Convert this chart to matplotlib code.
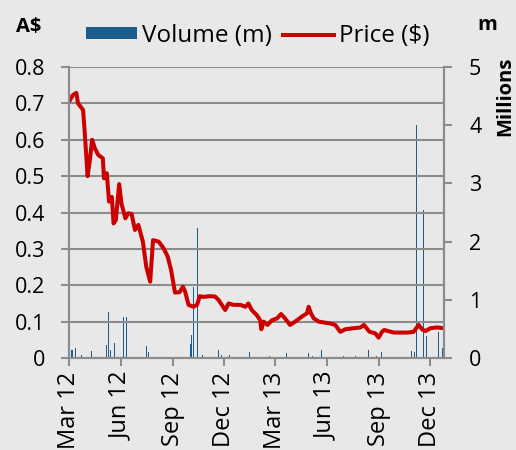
import pandas as pd
import matplotlib
matplotlib.use("Agg")
import matplotlib.pyplot as plt
import matplotlib.dates as mdates
from matplotlib.patches import Patch
from matplotlib.lines import Line2D

plt.rcParams['font.family'] = ['Open Sans', 'DejaVu Sans']

# Share price (A$)
price_dates = [
    "2012-03-01", "2012-03-08", "2012-03-14", "2012-03-17", "2012-03-26", "2012-03-29",
    "2012-04-03", "2012-04-07", "2012-04-11", "2012-04-16", "2012-04-22", "2012-04-30",
    "2012-05-02", "2012-05-07", "2012-05-11", "2012-05-16", "2012-05-19", "2012-05-23",
    "2012-05-29", "2012-06-02", "2012-06-09", "2012-06-14", "2012-06-20", "2012-06-26",
    "2012-07-02", "2012-07-10", "2012-07-16", "2012-07-23", "2012-07-28", "2012-08-07",
    "2012-08-16", "2012-08-23", "2012-08-29", "2012-09-05", "2012-09-13", "2012-09-19",
    "2012-09-23", "2012-09-29", "2012-10-08", "2012-10-14", "2012-10-19", "2012-10-25",
    "2012-11-06", "2012-11-15", "2012-11-21", "2012-12-03", "2012-12-09", "2012-12-18",
    "2012-12-30", "2013-01-08", "2013-01-13", "2013-01-19", "2013-01-28", "2013-02-03",
    "2013-02-05", "2013-02-09", "2013-02-16", "2013-02-24", "2013-03-05", "2013-03-12",
    "2013-03-19", "2013-03-28", "2013-04-06", "2013-04-18", "2013-04-27", "2013-04-30",
    "2013-05-04", "2013-05-09", "2013-05-18", "2013-06-07", "2013-06-16", "2013-06-25",
    "2013-07-04", "2013-07-19", "2013-07-31", "2013-08-06", "2013-08-16", "2013-08-26",
    "2013-09-01", "2013-09-07", "2013-09-11", "2013-09-28", "2013-10-22", "2013-11-02",
    "2013-11-11", "2013-11-17", "2013-11-23", "2013-12-02", "2013-12-14", "2013-12-25",
]
price_values = [
    0.705, 0.723, 0.729, 0.700, 0.682, 0.618,
    0.500, 0.544, 0.600, 0.576, 0.558, 0.549,
    0.494, 0.508, 0.430, 0.443, 0.370, 0.379,
    0.478, 0.425, 0.384, 0.398, 0.396, 0.352,
    0.366, 0.320, 0.251, 0.210, 0.324, 0.320,
    0.301, 0.279, 0.242, 0.180, 0.181, 0.196,
    0.182, 0.146, 0.141, 0.146, 0.170, 0.168,
    0.170, 0.169, 0.160, 0.132, 0.150, 0.146,
    0.146, 0.141, 0.150, 0.132, 0.118, 0.104,
    0.079, 0.100, 0.091, 0.104, 0.109, 0.121,
    0.109, 0.091, 0.100, 0.114, 0.123, 0.141,
    0.123, 0.109, 0.100, 0.095, 0.091, 0.072,
    0.079, 0.082, 0.084, 0.091, 0.072, 0.068,
    0.056, 0.072, 0.077, 0.070, 0.070, 0.072,
    0.091, 0.079, 0.074, 0.082, 0.084, 0.082,
]

# Daily volume (millions of shares)
vol_dates = [
    "2012-03-05", "2012-03-07", "2012-03-13", "2012-03-19", "2012-03-23", "2012-03-28",
    "2012-04-02", "2012-04-04", "2012-04-10", "2012-04-16", "2012-04-23", "2012-04-30",
    "2012-05-02", "2012-05-07", "2012-05-10", "2012-05-14", "2012-05-21", "2012-05-23",
    "2012-05-29", "2012-06-06", "2012-06-11", "2012-06-19", "2012-06-26", "2012-07-05",
    "2012-07-16", "2012-07-20", "2012-08-06", "2012-08-13", "2012-08-20", "2012-08-29",
    "2012-09-05", "2012-09-19", "2012-09-26", "2012-09-28", "2012-10-02", "2012-10-04",
    "2012-10-08", "2012-10-15", "2012-10-16", "2012-10-19", "2012-10-24", "2012-11-21",
    "2012-11-26", "2012-12-06", "2012-12-11", "2013-01-15", "2013-01-23", "2013-02-06",
    "2013-02-20", "2013-03-22", "2013-04-02", "2013-04-15", "2013-04-22", "2013-04-30",
    "2013-05-07", "2013-05-20", "2013-05-23", "2013-06-10", "2013-07-01", "2013-07-22",
    "2013-08-14", "2013-08-28", "2013-09-06", "2013-09-18", "2013-09-25", "2013-10-21",
    "2013-10-29", "2013-11-04", "2013-11-07", "2013-11-20", "2013-11-25", "2013-12-03",
    "2013-12-16", "2013-12-23",
]
vol_values = [
    0.14, 0.14, 0.17, 0.22, 0.05, 0.18,
    1.01, 0.22, 0.12, 0.09, 0.04, 0.47,
    0.49, 0.22, 0.785, 0.14, 0.26, 0.17,
    0.10, 0.70, 0.70, 0.04, 0.13, 0.04,
    0.20, 0.10, 0.03, 0.04, 0.04, 0.18,
    0.11, 0.06, 0.14, 0.18, 0.24, 0.40,
    1.22, 2.23, 1.68, 0.37, 0.06, 0.14,
    0.05, 0.17, 0.06, 0.10, 0.05, 0.17,
    0.04, 0.09, 0.10, 0.05, 0.37, 0.09,
    0.04, 0.20, 0.14, 0.04, 0.03, 0.04,
    0.13, 0.04, 0.10, 0.23, 0.04, 0.13,
    0.12, 0.10, 4.00, 2.55, 0.38, 0.06,
    0.45, 0.17,
]

bg = "#e8e8e8"
grid_col = "#8c8c8c"
bar_col = "#1b5c8a"
line_col = "#cc0000"

pdates = pd.to_datetime(price_dates)
vdates = pd.to_datetime(vol_dates)

fig = plt.figure(figsize=(5.16, 4.5), dpi=100, facecolor=bg)
ax = fig.add_axes([0.1337, 0.2044, 0.7268, 0.6467])
ax2 = ax.twinx()
ax.set_zorder(ax2.get_zorder() + 1)
ax.patch.set_visible(False)
ax2.patch.set_facecolor(bg)

ax2.bar(vdates, vol_values, width=1.0, color=bar_col, linewidth=0)
ax.plot(pdates, price_values, color=line_col, linewidth=2.9, solid_joinstyle='round')

ax.set_xlim(pd.Timestamp("2012-03-01"), pd.Timestamp("2013-12-26"))
ax.set_ylim(0, 0.8)
ax2.set_ylim(0, 5)
ax.set_yticks([0, 0.1, 0.2, 0.3, 0.4, 0.5, 0.6, 0.7, 0.8])
ax.set_yticklabels(["0", "0.1", "0.2", "0.3", "0.4", "0.5", "0.6", "0.7", "0.8"])
ax2.set_yticks([0, 1, 2, 3, 4, 5])

ax.xaxis.set_major_locator(mdates.MonthLocator(bymonth=[3, 6, 9, 12]))
ax.xaxis.set_major_formatter(mdates.DateFormatter("%b %y"))
for lab in ax.get_xticklabels():
    lab.set_rotation(90)

ax.yaxis.grid(True, color=grid_col, linewidth=1.5)
ax.set_axisbelow(True)

for a in (ax, ax2):
    for side, sp in a.spines.items():
        sp.set_color(grid_col)
        sp.set_linewidth(1.5)
    a.spines['top'].set_visible(False)
    a.tick_params(colors=grid_col, width=1.5, length=6, labelcolor="black", labelsize=15.5)
ax.tick_params(axis='y', pad=11)
ax2.tick_params(axis='y', pad=12)
ax.tick_params(axis='x', pad=4, labelsize=17)

fig.text(0.055, 0.94, "A$", fontsize=14.5, fontweight='bold', ha='center', va='center')
fig.text(0.944, 0.945, "m", fontsize=14.5, fontweight='bold', ha='center', va='center')
fig.text(0.98, 0.785, "Millions", fontsize=14.5, fontweight='bold', rotation=90,
         ha='center', va='center')

handles = [Patch(facecolor=bar_col, edgecolor='none', label="Volume (m)"),
           Line2D([0], [0], color=line_col, linewidth=2.9, label="Price ($)")]
fig.legend(handles=handles, loc='center', bbox_to_anchor=(0.5, 0.92), ncol=2,
           frameon=False, fontsize=17.5, handlelength=2.1, handleheight=0.4,
           handletextpad=0.2, columnspacing=0.45)

fig.savefig("out.png", dpi=100, facecolor=bg)
